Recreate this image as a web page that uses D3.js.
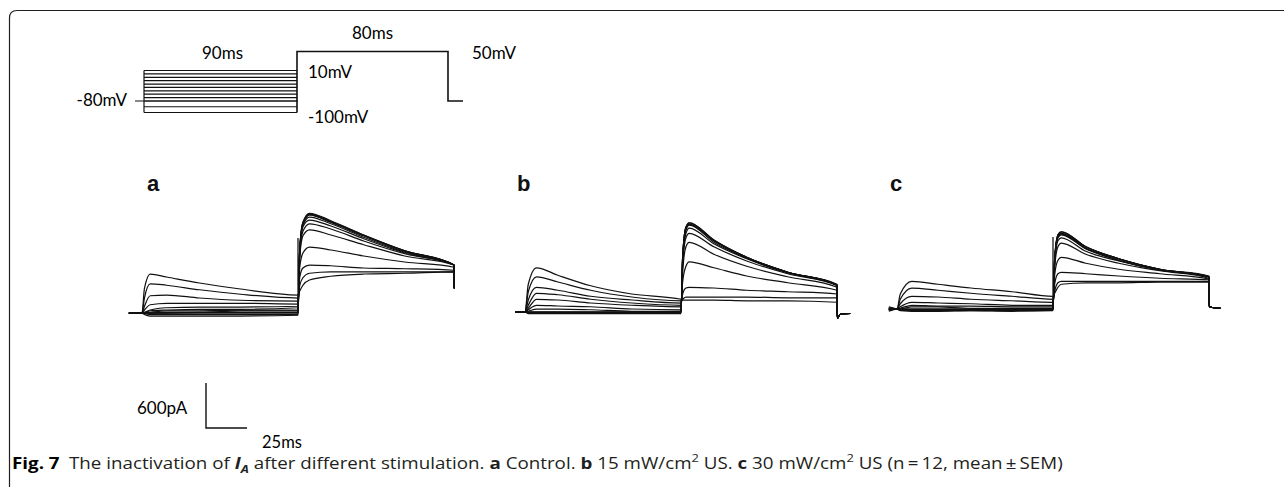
<!DOCTYPE html>
<html>
<head>
<meta charset="utf-8">
<script src="https://cdn.jsdelivr.net/npm/d3@7"></script>
<style>
    html, body { margin: 0; padding: 0; background: #fff; }
    svg { display: block; }
</style>
</head>
<body>
<svg id="fig" width="1284" height="487"></svg>
<script>
// === Data: voltage protocol ===
const stepLevels = [-100, -90, -80, -70, -60, -50, -40, -30, -20, -10, 0, 10]; // mV
const holdingLevel = -80;
const testLevel = 50;
const prepulseDur = 90;  // ms
const testDur = 80;      // ms

// === Data: current traces (pA), one row per prepulse ===
const panelLabels = ['a', 'b', 'c'];

// a Control
const timesA = [-8, 0, 1.5, 5, 15, 35, 60, 95, 96, 98, 102, 115, 135, 160, 190];
const tracesA = [
    [0, 0, 330, 520, 480, 400, 320, 240, 290, 370, 440, 490, 520, 530, 550],
    [0, 0, 200, 390, 370, 310, 250, 200, 360, 470, 530, 550, 550, 550, 550],
    [0, 0, 90, 230, 240, 200, 170, 160, 470, 600, 640, 630, 600, 590, 570],
    [0, 0, 40, 110, 130, 130, 130, 120, 600, 800, 880, 840, 760, 680, 610],
    [0, 0, 10, 40, 70, 80, 80, 90, 730, 1030, 1110, 1040, 910, 760, 640],
    [0, 0, 0, 30, 40, 50, 50, 70, 770, 1090, 1190, 1120, 960, 790, 640],
    [0, 0, 0, 10, 30, 30, 40, 40, 800, 1150, 1240, 1160, 990, 800, 640],
    [0, 0, 0, 0, 10, 10, 30, 30, 800, 1170, 1280, 1190, 1010, 810, 640],
    [0, 0, 0, 0, 0, 10, 10, 10, 810, 1200, 1310, 1210, 1030, 830, 640],
    [0, 0, 0, 0, 0, 0, 0, 0, 830, 1210, 1330, 1230, 1040, 830, 640],
    [0, 0, -10, -20, -20, -20, -20, -20, 820, 1200, 1320, 1220, 1040, 830, 640],
    [0, 0, -20, -40, -40, -40, -40, -30, 810, 1190, 1310, 1210, 1030, 820, 640],
];
const tailA = [[190.2, 330]];
const spikeA = 1000;

// b 15 mW/cm2 US
const timesB = [-6, 0, 2, 7, 20, 40, 65, 95, 96, 98, 100, 115, 135, 160, 190];
const tracesB = [
    [0, 0, 370, 590, 490, 350, 240, 170, 160, 160, 160, 160, 150, 150, 130],
    [0, 0, 270, 470, 400, 290, 200, 150, 170, 200, 200, 200, 200, 190, 190],
    [0, 0, 160, 330, 290, 210, 160, 120, 240, 320, 330, 320, 290, 270, 240],
    [0, 0, 90, 250, 230, 170, 120, 90, 400, 610, 670, 590, 480, 390, 290],
    [0, 0, 50, 170, 160, 120, 90, 70, 530, 870, 930, 770, 610, 470, 330],
    [0, 0, 30, 90, 80, 70, 40, 30, 630, 990, 1050, 870, 680, 510, 350],
    [0, 0, 10, 40, 40, 30, 10, 10, 670, 1050, 1120, 910, 710, 520, 360],
    [0, 0, 0, 0, 0, 0, 0, 0, 690, 1090, 1160, 930, 720, 530, 360],
    [0, 0, 0, 0, 0, 0, 0, -10, 720, 1120, 1170, 950, 720, 530, 360],
    [0, 0, 0, 0, 0, 0, 0, 0, 730, 1130, 1190, 960, 730, 530, 360],
    [0, 0, -10, -10, -10, -10, -10, -10, 720, 1130, 1190, 960, 730, 530, 360],
    [0, 0, -20, -20, -20, -20, -20, -20, 720, 1120, 1170, 950, 730, 530, 370],
];
const tailB = [[190.2, -80], [192, -30], [198, -20]];
const spikeB = 0;

// c 30 mW/cm2 US
const timesC = [-5, 0, 2, 9, 25, 45, 70, 95, 96, 98, 100, 115, 135, 160, 190];
const tracesC = [
    [0, 0, 200, 370, 330, 280, 230, 170, 210, 290, 330, 350, 350, 360, 360],
    [0, 0, 130, 280, 250, 210, 170, 130, 240, 350, 370, 370, 370, 370, 370],
    [0, 0, 70, 170, 160, 130, 110, 90, 330, 470, 490, 470, 440, 410, 390],
    [0, 0, 30, 90, 80, 70, 50, 50, 450, 650, 690, 610, 530, 470, 400],
    [0, 0, 10, 50, 40, 40, 30, 30, 560, 830, 880, 730, 610, 510, 410],
    [0, 0, 0, 30, 30, 10, 10, 10, 610, 910, 950, 770, 640, 520, 430],
    [0, 0, 0, 0, 0, 0, 0, 0, 640, 950, 990, 800, 650, 520, 430],
    [0, 0, 0, 0, 0, 0, 0, 0, 670, 990, 1030, 830, 670, 530, 430],
    [30, 0, -10, -10, -10, -10, -10, -10, 650, 970, 1010, 810, 670, 530, 430],
    [-30, 0, -20, -20, -20, -20, -20, -20, 670, 990, 1030, 830, 670, 530, 430],
    [20, 0, 0, -10, -10, 0, -10, -10, 650, 970, 1010, 830, 670, 530, 440],
    [-20, 0, -20, -30, -30, -20, -30, -20, 640, 960, 1000, 810, 650, 520, 430],
];
const tailC = [[190.2, 30], [192, 20], [197, 10]];
const spikeC = 960;

// scale bar
const barCurrent = 600; // pA
const barTime = 25;     // ms

const svg = d3.select('#fig');
const ink = '#111';

// === Frame ===
svg.append('path')
    .attr('d', 'M9.5,487 L9.5,18 Q9.5,10.5 17,10.5 L1284,10.5')
    .attr('fill', 'none')
    .attr('stroke', '#231f20')
    .attr('stroke-width', 1.2);

// === Voltage protocol ===
const tP = d3.scaleLinear().domain([-5, 0, prepulseDur, prepulseDur + testDur, prepulseDur + testDur + 9])
    .range([135, 144, 297, 448, 463]);
const vP = d3.scaleLinear().domain([-100, -80, 10, 50]).range([112.5, 101, 70.5, 51.5]);

const proto = svg.append('g')
    .attr('fill', 'none')
    .attr('stroke', ink)
    .attr('stroke-width', 1.2);

proto.selectAll('line.step')
    .data(stepLevels)
    .join('line')
    .attr('x1', tP(0)).attr('x2', tP(prepulseDur))
    .attr('y1', d => vP(d)).attr('y2', d => vP(d));

proto.append('line')
    .attr('x1', tP(-5)).attr('x2', tP(prepulseDur) + 1)
    .attr('y1', vP(holdingLevel)).attr('y2', vP(holdingLevel));

proto.append('line')
    .attr('x1', tP(0)).attr('x2', tP(0))
    .attr('y1', vP(d3.min(stepLevels))).attr('y2', vP(d3.max(stepLevels)));

proto.append('path')
    .attr('stroke-width', 1.6)
    .attr('d', `M${tP(prepulseDur)},${vP(d3.min(stepLevels))} V${vP(testLevel)} H${tP(prepulseDur + testDur)} V${vP(holdingLevel)} H${tP(prepulseDur + testDur + 9)}`);

const labelFont = 'Lato, "Open Sans", sans-serif';
const protoLabels = [
    { text: prepulseDur + 'ms', x: (tP(0) + tP(prepulseDur)) / 2 + 2, y: 59, anchor: 'middle' },
    { text: testDur + 'ms', x: (tP(prepulseDur) + tP(prepulseDur + testDur)) / 2, y: 39, anchor: 'middle' },
    { text: testLevel + 'mV', x: 472, y: 59, anchor: 'start' },
    { text: d3.max(stepLevels) + 'mV', x: 308, y: 78, anchor: 'start' },
    { text: holdingLevel + 'mV', x: 127, y: 106, anchor: 'end' },
    { text: d3.min(stepLevels) + 'mV', x: 308, y: 123, anchor: 'start' },
];
svg.append('g').selectAll('text')
    .data(protoLabels)
    .join('text')
    .attr('x', d => d.x).attr('y', d => d.y)
    .attr('text-anchor', d => d.anchor)
    .attr('font-family', labelFont)
    .attr('font-size', 17)
    .attr('fill', '#000')
    .text(d => d.text);

// === Current traces ===
const panels = [
    { times: timesA, traces: tracesA, tail: tailA, spike: spikeA, x0: 142, y0: 313, lx: 147 },
    { times: timesB, traces: tracesB, tail: tailB, spike: spikeB, x0: 525, y0: 312, lx: 517 },
    { times: timesC, traces: tracesC, tail: tailC, spike: spikeC, x0: 897, y0: 309, lx: 890 },
];

panels.forEach((p, k) => {
    const x = d3.scaleLinear().domain([0, 95]).range([p.x0, p.x0 + 156]);
    const y = d3.scaleLinear().domain([0, 600]).range([p.y0, p.y0 - 45]);
    const line = d3.line()
        .x(d => x(d[0]))
        .y(d => y(d[1]))
        .curve(d3.curveMonotoneX);

    const g = svg.append('g')
        .attr('fill', 'none')
        .attr('stroke', ink)
        .attr('stroke-width', 1.25)
        .attr('stroke-linejoin', 'round');

    g.selectAll('path')
        .data(p.traces)
        .join('path')
        .attr('d', tr => line(p.times.map((t, i) => [t, tr[i]]).concat(p.tail)));

    if (p.spike) {
        g.append('line')
            .attr('x1', x(95)).attr('x2', x(95))
            .attr('y1', y(0)).attr('y2', y(p.spike));
    }

    svg.append('text')
        .attr('x', p.lx).attr('y', 191)
        .attr('font-family', '"Liberation Sans", Arial, sans-serif')
        .attr('font-weight', 'bold')
        .attr('font-size', 22)
        .attr('fill', '#111')
        .text(panelLabels[k]);
});

// === Scale bar ===
const sbY = d3.scaleLinear().domain([0, 600]).range([428, 383]);
const sbX = d3.scaleLinear().domain([0, 95]).range([206, 206 + 156]);
svg.append('path')
    .attr('fill', 'none')
    .attr('stroke', ink)
    .attr('stroke-width', 1.4)
    .attr('d', `M${sbX(0)},${sbY(barCurrent)} V${sbY(0)} H${sbX(barTime)}`);
svg.append('text')
    .attr('x', 137).attr('y', 414)
    .attr('font-family', labelFont).attr('font-size', 17).attr('fill', '#000')
    .text(barCurrent + 'pA');
svg.append('text')
    .attr('x', 262).attr('y', 448)
    .attr('font-family', labelFont).attr('font-size', 16.5).attr('fill', '#000')
    .text(barTime + 'ms');

// === Caption ===
const capParts = [
    { t: 'Fig. 7', w: 'bold', fill: '#000' },
    { t: '\u2002The inactivation of ' },
    { t: 'I', w: 'bold', s: 'italic' },
    { t: 'A', w: 'bold', s: 'italic', sub: true },
    { t: ' after different stimulation. ' },
    { t: 'a', w: 'bold' },
    { t: ' Control. ' },
    { t: 'b', w: 'bold' },
    { t: ' 15 mW/cm' },
    { t: '2', sup: true },
    { t: ' US. ' },
    { t: 'c', w: 'bold' },
    { t: ' 30 mW/cm' },
    { t: '2', sup: true },
    { t: ' US (n\u2009=\u200912, mean\u2009\u00b1\u2009SEM)' },
];
const cap = svg.append('text')
    .attr('x', 12).attr('y', 469)
    .attr('font-family', '"Open Sans", "Noto Sans", sans-serif')
    .attr('font-size', 16)
    .attr('fill', '#231f20');
let shift = 0;
capParts.forEach(d => {
    const want = d.sub ? 4 : d.sup ? -6.5 : 0;
    cap.append('tspan')
        .attr('dy', want - shift)
        .attr('font-weight', d.w || 'normal')
        .attr('font-style', d.s || 'normal')
        .attr('font-size', d.sub || d.sup ? 11 : null)
        .attr('fill', d.fill || null)
        .text(d.t);
    shift = want;
});
const capW = cap.node().getComputedTextLength();
cap.attr('transform', `translate(12,0) scale(${1051 / capW},1) translate(-12,0)`);
</script>
</body>
</html>
